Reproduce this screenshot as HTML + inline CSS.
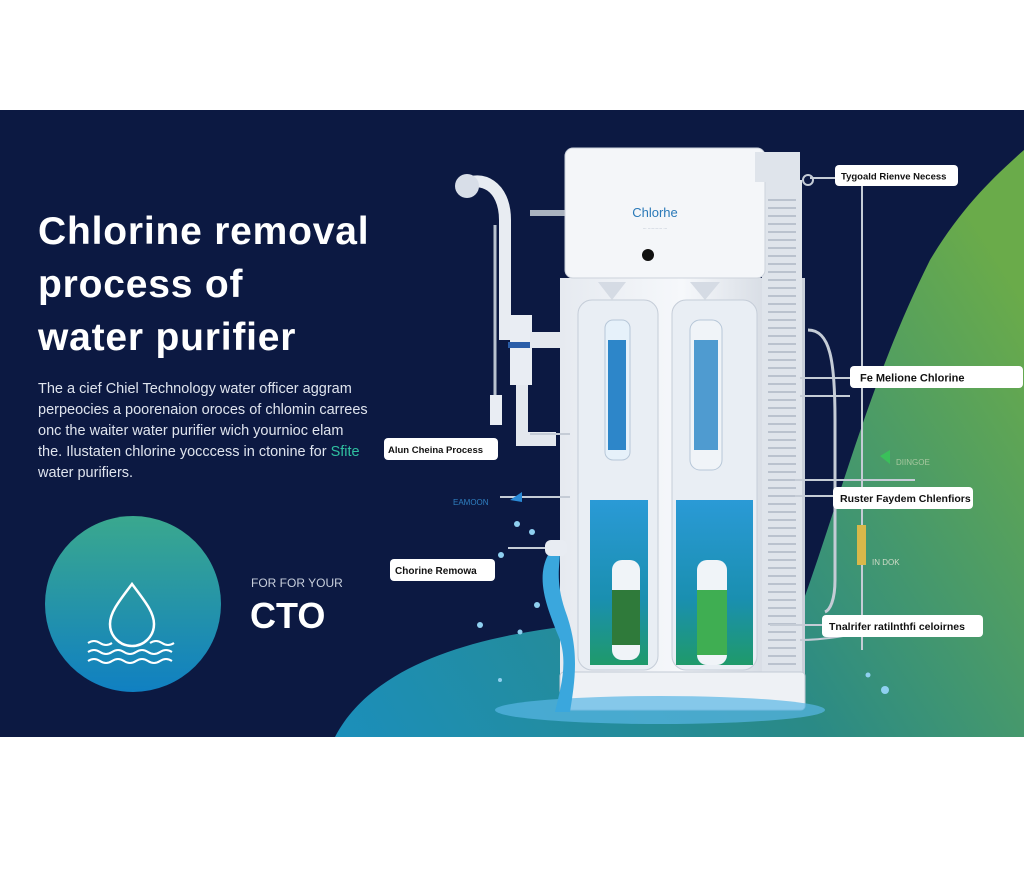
<!DOCTYPE html>
<html><head><meta charset="utf-8"><style>
html,body{margin:0;padding:0;background:#fff;}
body{width:1024px;height:878px;overflow:hidden;font-family:"Liberation Sans",sans-serif;}
</style></head><body>
<svg width="1024" height="878" viewBox="0 0 1024 878" xmlns="http://www.w3.org/2000/svg" font-family="Liberation Sans, sans-serif">
<defs>
<linearGradient id="bg2" x1="335" y1="737" x2="1024" y2="300" gradientUnits="userSpaceOnUse">
<stop offset="0" stop-color="#1b8fbb"/><stop offset="0.5" stop-color="#2a8a86"/><stop offset="1" stop-color="#6aab4a"/></linearGradient>
<linearGradient id="circ" x1="0" y1="0" x2="0" y2="1">
<stop offset="0" stop-color="#3aa88e"/><stop offset="1" stop-color="#1080c2"/></linearGradient>
<linearGradient id="body" x1="0" y1="0" x2="1" y2="0">
<stop offset="0" stop-color="#e6eaf0"/><stop offset="0.5" stop-color="#f6f8fb"/><stop offset="1" stop-color="#c9d0da"/></linearGradient>
<linearGradient id="wat" x1="0" y1="0" x2="0" y2="1">
<stop offset="0" stop-color="#2a9ad6"/><stop offset="0.6" stop-color="#1a8fb0"/><stop offset="1" stop-color="#1f9a6a"/></linearGradient>
</defs>
<rect x="0" y="110" width="1024" height="627" fill="#0c1942"/>
<path d="M335,737 C380,650 520,625 650,620 L800,610 C840,500 870,380 930,260 C960,210 990,180 1024,150 L1024,737 Z" fill="url(#bg2)"/>
<!-- title -->
<g fill="#fff" font-size="39" font-weight="bold" letter-spacing="0.8">
<text x="38" y="244">Chlorine removal</text>
<text x="38" y="297">process of</text>
<text x="38" y="350">water purifier</text>
</g>
<g fill="#dfe4ee" font-size="14.5">
<text x="38" y="393">The a cief Chiel Technology water officer aggram</text>
<text x="38" y="414">perpeocies a poorenaion oroces of chlomin carrees</text>
<text x="38" y="435">onc the  waiter water purifier wich yournioc elam</text>
<text x="38" y="456">the. Ilustaten chlorine yocccess in ctonine for <tspan fill="#2fc0a0">Sfite</tspan></text>
<text x="38" y="477">water purifiers.</text>
</g>
<circle cx="133" cy="604" r="88" fill="url(#circ)"/>
<path d="M132,584 C120,600 110,612 110,624 A22,22 0 0 0 154,624 C154,612 144,600 132,584 Z" fill="none" stroke="#fff" stroke-width="2.5"/>
<path d="M88,643 q6,-4 12,0 t12,0 M150,643 q6,-4 12,0 t12,0 M88,652 q6,-4 12,0 t12,0 t12,0 t12,0 t12,0 t12,0 t12,0 M88,661 q6,-4 12,0 t12,0 t12,0 t12,0 t12,0 t12,0 t12,0" fill="none" stroke="#fff" stroke-width="2"/>
<text x="251" y="587" fill="#c8cfdc" font-size="12">FOR FOR YOUR</text>
<text x="250" y="628" fill="#fff" font-size="36" font-weight="bold">CTO</text>
<!-- pipes left -->
<path d="M465,185 C480,175 505,185 505,220 L505,340" fill="none" stroke="#e8ecf2" stroke-width="12"/>
<circle cx="467" cy="186" r="12" fill="#d8dee8"/>
<path d="M495,225 L495,410" stroke="#b9c2cf" stroke-width="3"/>
<rect x="510" y="315" width="22" height="70" fill="#e9edf3"/>
<rect x="508" y="342" width="26" height="6" fill="#2b5ea8"/>
<rect x="530" y="332" width="40" height="16" fill="#e4e8ee"/>
<rect x="516" y="385" width="12" height="55" fill="#e4e8ee"/>
<rect x="516" y="432" width="40" height="14" fill="#e4e8ee"/>
<rect x="530" y="210" width="40" height="6" fill="#aab3c0"/>
<rect x="490" y="395" width="12" height="30" fill="#e9edf3"/>
<!-- purifier body -->
<rect x="560" y="278" width="245" height="412" fill="url(#body)"/>
<rect x="762" y="180" width="40" height="500" fill="#dfe4eb"/>
<g stroke="#aeb7c4" stroke-width="1.5">
<path d="M768,200 h28 M768,208 h28 M768,216 h28 M768,224 h28 M768,232 h28 M768,240 h28 M768,248 h28 M768,256 h28 M768,264 h28 M768,272 h28 M768,280 h28 M768,288 h28 M768,296 h28 M768,304 h28 M768,312 h28 M768,320 h28 M768,328 h28 M768,336 h28 M768,344 h28 M768,352 h28 M768,360 h28 M768,368 h28 M768,376 h28 M768,384 h28 M768,392 h28 M768,400 h28 M768,408 h28 M768,416 h28 M768,424 h28 M768,432 h28 M768,440 h28 M768,448 h28 M768,456 h28 M768,464 h28 M768,472 h28 M768,480 h28 M768,488 h28 M768,496 h28 M768,504 h28 M768,512 h28 M768,520 h28 M768,528 h28 M768,536 h28 M768,544 h28 M768,552 h28 M768,560 h28 M768,568 h28 M768,576 h28 M768,584 h28 M768,592 h28 M768,600 h28 M768,608 h28 M768,616 h28 M768,624 h28 M768,632 h28 M768,640 h28 M768,648 h28 M768,656 h28 M768,664 h28"/>
</g>
<rect x="578" y="300" width="80" height="370" rx="14" fill="#e9eef4" stroke="#c5cdd8"/>
<rect x="672" y="300" width="85" height="370" rx="14" fill="#e9eef4" stroke="#c5cdd8"/>
<rect x="590" y="500" width="58" height="165" fill="url(#wat)"/>
<rect x="676" y="500" width="77" height="165" fill="url(#wat)"/>
<rect x="605" y="320" width="25" height="140" rx="8" fill="#e6f1fa" stroke="#b7c7d8"/>
<rect x="608" y="340" width="18" height="110" fill="#2d86c9"/>
<rect x="690" y="320" width="32" height="150" rx="10" fill="#f0f4f8" stroke="#b7c7d8"/>
<rect x="694" y="340" width="24" height="110" fill="#4f9bd0"/>
<rect x="612" y="560" width="28" height="100" rx="10" fill="#f0f4f8"/>
<rect x="612" y="590" width="28" height="55" fill="#2f7a3a"/>
<rect x="697" y="560" width="30" height="105" rx="10" fill="#f0f4f8"/>
<rect x="697" y="590" width="30" height="65" fill="#3fae52"/>
<path d="M598,282 L612,300 L626,282 Z M690,282 L705,300 L720,282 Z" fill="#d5dbe4"/>
<rect x="560" y="672" width="245" height="38" rx="4" fill="#eef1f5" stroke="#c3cad5"/>
<ellipse cx="660" cy="710" rx="165" ry="14" fill="#58b7e6" opacity="0.7"/>
<!-- head -->
<rect x="565" y="148" width="200" height="130" rx="8" fill="#f4f6f9" stroke="#cdd3dc"/>
<rect x="755" y="152" width="45" height="30" fill="#dfe4eb"/>
<text x="655" y="217" fill="#2a79b8" font-size="13" text-anchor="middle">Chlorhe</text>
<text x="655" y="230" fill="#7a8aa0" font-size="4" text-anchor="middle">··· ··········· ···</text>
<circle cx="648" cy="255" r="6" fill="#111"/>
<!-- water splash -->
<path d="M548,555 C535,580 548,610 560,640 C568,665 560,690 555,712 L570,712 C575,680 580,650 565,610 C555,580 560,565 560,552 Z" fill="#3aa7dd"/>
<rect x="545" y="540" width="22" height="16" rx="6" fill="#e8ecf2"/>
<g fill="#8fd0f0">
<circle cx="517" cy="524" r="3"/><circle cx="532" cy="532" r="3"/><circle cx="501" cy="555" r="3"/><circle cx="537" cy="605" r="3"/><circle cx="480" cy="625" r="3"/><circle cx="520" cy="632" r="2.5"/><circle cx="885" cy="690" r="4"/><circle cx="868" cy="675" r="2.5"/><circle cx="500" cy="680" r="2"/>
</g>
<!-- right connector lines -->
<g stroke="#c5ccd6" stroke-width="2" fill="none">
<path d="M810,178 H835"/><circle cx="808" cy="180" r="5"/>
<path d="M862,180 V650"/>
<path d="M800,378 H850"/><path d="M800,396 H850"/>
<path d="M795,480 H915"/><path d="M795,496 H835"/>
<path d="M770,625 H822"/>
<path d="M800,640 C820,640 860,635 862,630"/>
<path d="M808,330 C830,330 835,360 835,420 L835,580 C835,600 830,610 825,612" stroke-width="3"/>
<path d="M570,434 H530"/><path d="M500,497 H570"/>
<path d="M508,548 H545"/>
</g>
<rect x="857" y="525" width="9" height="40" fill="#d8b84a"/>
<path d="M880,456 l10,-6 v14 z" fill="#3ac05a"/>
<path d="M510,500 l12,-8 v10 z" fill="#2a8ad6"/>
<text x="896" y="465" fill="#a8c8a0" font-size="8">DIINGOE</text>
<text x="872" y="565" fill="#d0dcc8" font-size="8">IN DOK</text>
<text x="453" y="505" fill="#2f7fc0" font-size="8">EAMOON</text>
<!-- labels -->
<g font-size="10.5" font-weight="bold" fill="#111">
<rect x="835" y="165" width="123" height="21" rx="4" fill="#fff"/><text x="841" y="179.5" font-size="9.5">Tygoald Rienve Necess</text>
<rect x="850" y="366" width="173" height="22" rx="4" fill="#fff"/><text x="860" y="381.5" font-size="11">Fe Melione Chlorine</text>
<rect x="833" y="487" width="140" height="22" rx="4" fill="#fff"/><text x="840" y="502">Ruster Faydem Chlenfiors</text>
<rect x="822" y="615" width="161" height="22" rx="4" fill="#fff"/><text x="829" y="630">Tnalrifer ratilnthfi celoirnes</text>
<rect x="384" y="438" width="114" height="22" rx="4" fill="#fff"/><text x="388" y="453" font-size="9.5">Alun Cheina Process</text>
<rect x="390" y="559" width="105" height="22" rx="4" fill="#fff"/><text x="395" y="574" font-size="10">Chorine Remowa</text>
</g>
</svg>
</body></html>
